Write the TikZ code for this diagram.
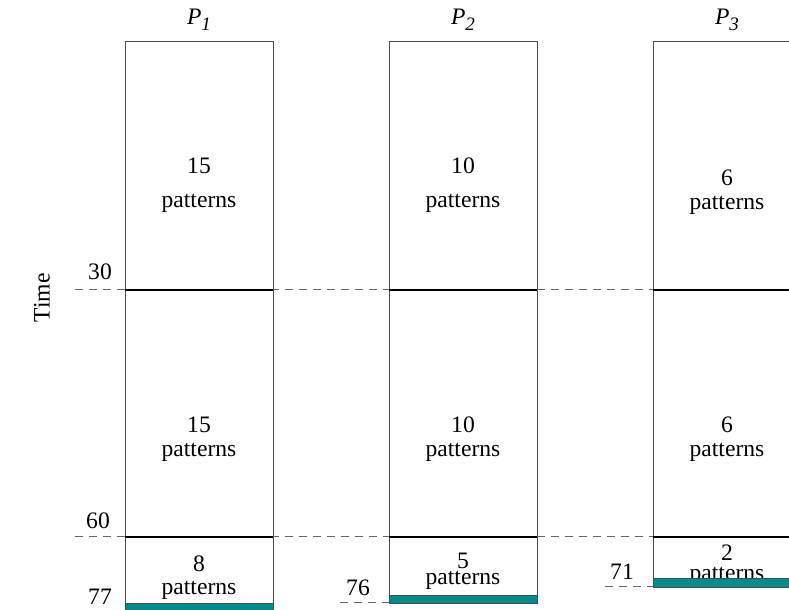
\documentclass[tikz,border=0pt]{standalone}
\usepackage{fontspec}
\setmainfont{Liberation Serif}
\definecolor{donecol}{RGB}{0,140,136}
\newcommand{\proc}[1]{\textit{P}\raisebox{-0.55ex}{\fontsize{9.5}{10}\selectfont\textit{#1}}}

\begin{document}
\begin{tikzpicture}[x=0.5pt, y=-0.5pt,
	lbl/.style={inner sep=0pt, font=\fontsize{11.8}{13}\selectfont},
	col/.style={draw=black!70, line width=0.5pt},
	sep/.style={draw=black, line width=0.8pt},
	lvl/.style={draw=black!60, dashed, dash pattern=on 4pt off 3pt, line width=0.5pt},
	done/.style={fill=donecol, draw=black!70, line width=0.4pt}]
	\clip (0,0) rectangle (789,610);

	% processor columns
	\draw[col] (125,612) -- (125,42) -- (273,42) -- (273,612);
	\draw[col] (389,603) -- (389,42) -- (537,42) -- (537,603);
	\draw[col] (653,587) -- (653,42) -- (801,42) -- (801,587);

	\node[lbl] (p1) at (199,20) {\proc{1}};
	\node[lbl] (p2) at (463,20) {\proc{2}};
	\node[lbl] (p3) at (727,20) {\proc{3}};

	% time levels
	\draw[lvl] (75,290) -- (789,290);
	\draw[lvl] (75,537) -- (789,537);
	\draw[lvl] (340,603) -- (389,603);
	\draw[lvl] (605,587) -- (653,587);
	\draw[sep] (125,290) -- (273,290) (389,290) -- (537,290) (653,290) -- (801,290);
	\draw[sep] (125,537) -- (273,537) (389,537) -- (537,537) (653,537) -- (801,537);

	\node[lbl, rotate=90] (time) at (42,298) {Time};
	\node[lbl] (t30) at (100,272) {30};
	\node[lbl] (t60) at (98,521) {60};
	\node[lbl] (t77) at (100,597) {77};
	\node[lbl] (t76) at (358,588) {76};
	\node[lbl] (t71) at (622,572) {71};

	% first block
	\node[lbl] (a1) at (199,166) {15};
	\node[lbl] (a1p) at (199,203) {patterns};
	\node[lbl] (a2) at (463,166) {10};
	\node[lbl] (a2p) at (463,203) {patterns};
	\node[lbl] (a3) at (727,178) {6};
	\node[lbl] (a3p) at (727,205) {patterns};

	% second block
	\node[lbl] (b1) at (199,425) {15};
	\node[lbl] (b1p) at (199,452) {patterns};
	\node[lbl] (b2) at (463,425) {10};
	\node[lbl] (b2p) at (463,452) {patterns};
	\node[lbl] (b3) at (727,425) {6};
	\node[lbl] (b3p) at (727,452) {patterns};

	% remainder
	\node[lbl] (c1) at (199,564) {8};
	\node[lbl] (c1p) at (199,590) {patterns};
	\node[lbl] (c2) at (463,561) {5};
	\node[lbl] (c2p) at (463,580) {patterns};
	\node[lbl] (c3) at (727,553) {2};
	\node[lbl] (c3p) at (727,576) {patterns};

	\draw[done] (125,603) rectangle (273,612);
	\draw[done] (389,595) rectangle (537,603);
	\draw[done] (653,578) rectangle (801,587);
\end{tikzpicture}
\end{document}
